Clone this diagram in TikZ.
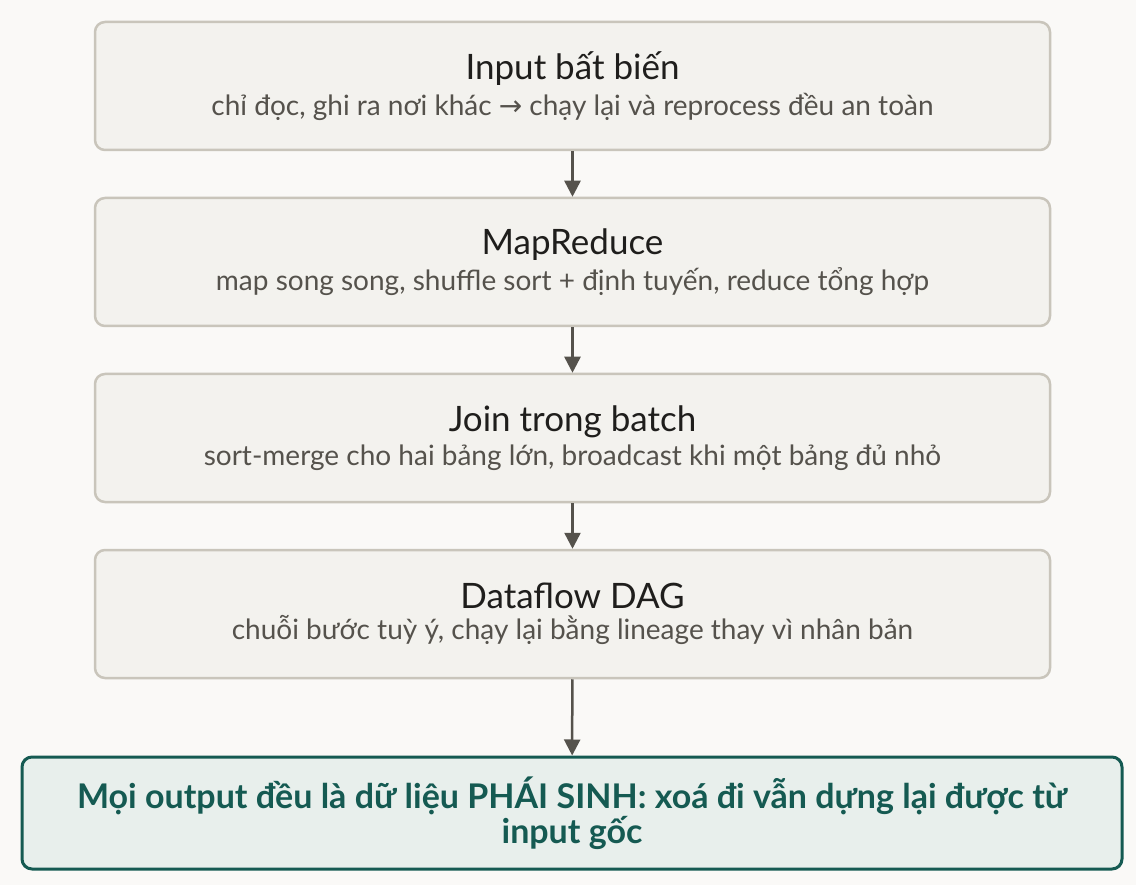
\documentclass[tikz,border=0pt]{standalone}
\usepackage{fontspec}
\setmainfont{Lato}
\newfontfamily\symfont{DejaVu Sans}
\usetikzlibrary{arrows.meta}

\definecolor{bgcol}{HTML}{FAF9F7}
\definecolor{boxfill}{HTML}{F3F2EE}
\definecolor{boxline}{HTML}{C9C5BB}
\definecolor{titlecol}{HTML}{1F1E1C}
\definecolor{subcol}{HTML}{55524C}
\definecolor{goalfill}{HTML}{E8EFEC}
\definecolor{goalline}{HTML}{155A52}

\tikzset{
    stage/.style={draw=boxline, fill=boxfill, line width=2.5pt, rounded corners=10pt,
        minimum width=955pt, minimum height=128pt, inner sep=0pt, align=center},
    goal/.style={draw=goalline, fill=goalfill, line width=3pt, rounded corners=10pt,
        minimum width=1100pt, minimum height=112pt, inner sep=0pt, align=center,
        text=goalline, font=\fontsize{34}{35}\selectfont\bfseries},
    flow/.style={draw=subcol, line width=2.5pt, -{Triangle[length=16pt,width=16pt]}},
}
\newcommand{\stagetext}[2]{{\fontsize{35}{40}\selectfont\color{titlecol}#1}\\[6pt]{\fontsize{28}{34}\selectfont\color{subcol}#2}}

\begin{document}
\begin{tikzpicture}[x=1pt, y=-1pt]

    % Background
    \fill[bgcol] (0,0) rectangle (1136,885);
    \useasboundingbox (0,0) rectangle (1136,885);

    % Stages
    \node[stage] (input) at (572.5,86) {\stagetext{Input bất biến}{chỉ đọc, ghi ra nơi khác {\symfont →} chạy lại và reprocess đều an toàn}};
    \node[stage] (mapred) at (572.5,262) {\stagetext{MapReduce}{map song song, shuffle sort + định tuyến, reduce tổng hợp}};
    \node[stage] (join) at (572.5,438) {\stagetext{Join trong batch}{sort-merge cho hai bảng lớn, broadcast khi một bảng đủ nhỏ}};
    \node[stage] (dag) at (572.5,614) {\stagetext{Dataflow DAG}{chuỗi bước tuỳ ý, chạy lại bằng lineage thay vì nhân bản}};

    % Result
    \node[goal] (derived) at (572,813) {Mọi output đều là dữ liệu PHÁI SINH: xoá đi vẫn dựng lại được từ\\input gốc};

    % Arrows
    \draw[flow] (input) -- (mapred);
    \draw[flow] (mapred) -- (join);
    \draw[flow] (join) -- (dag);
    \draw[flow] (dag) -- (derived);

\end{tikzpicture}
\end{document}
